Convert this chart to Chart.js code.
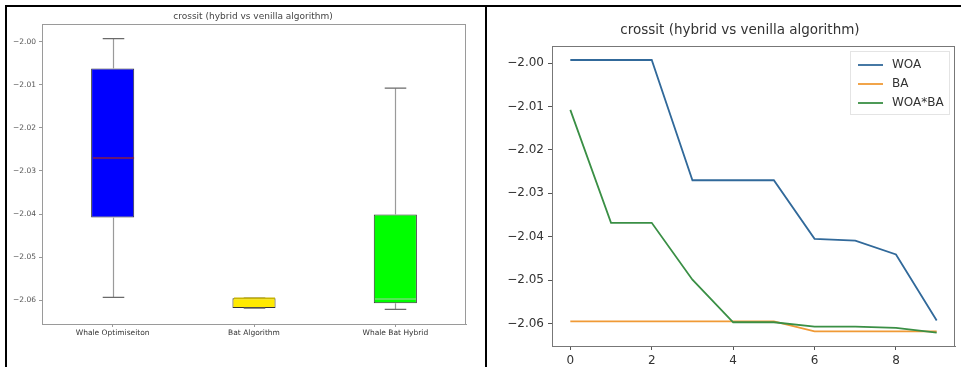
<!DOCTYPE html>
<html>
<head>
<meta charset="utf-8">
<script src="https://cdn.jsdelivr.net/npm/chart.js@4.4.0/dist/chart.umd.min.js"></script>
<style>
    html, body { margin: 0; padding: 0; background: #fff; }
    body { width: 961px; height: 367px; overflow: hidden; position: relative; }
    canvas { position: absolute; top: 0; }
    #box-chart { left: 0; }
    #line-chart { left: 488px; }
    .rule { position: absolute; background: #000; z-index: 5; }
</style>
</head>
<body>
<canvas id="box-chart" width="488" height="367"></canvas>
<canvas id="line-chart" width="473" height="367"></canvas>
<div class="rule" style="left:5px; top:5px; width:956px; height:2px;"></div>
<div class="rule" style="left:5px; top:5px; width:2px; height:362px;"></div>
<div class="rule" style="left:485px; top:5px; width:2px; height:362px;"></div>
<script>
// --- Data ---
const chartTitle = 'crossit (hybrid vs venilla algorithm)';
const iterations = [0, 1, 2, 3, 4, 5, 6, 7, 8, 9];
const woaValues = [-1.9993, -1.9993, -1.9993, -2.0270, -2.0270, -2.0270, -2.0405, -2.0409, -2.0441, -2.0593];
const baValues = [-2.0595, -2.0595, -2.0595, -2.0595, -2.0595, -2.0595, -2.0618, -2.0618, -2.0618, -2.0618];
const hybridValues = [-2.0108, -2.0368, -2.0368, -2.0499, -2.0597, -2.0597, -2.0607, -2.0607, -2.0610, -2.0621];
const seriesNames = ['WOA', 'BA', 'WOA*BA'];
const boxLabels = ['Whale Optimiseiton', 'Bat Algorithm', 'Whale Bat Hybrid'];
const yTicks = [-2.00, -2.01, -2.02, -2.03, -2.04, -2.05, -2.06];
const xTicks = [0, 2, 4, 6, 8];

const FONT = '"DejaVu Sans", sans-serif';

// --- Box statistics (like matplotlib's boxplot) ---
function quantile(arr, p) {
    const s = [...arr].sort((a, b) => a - b);
    const pos = (s.length - 1) * p;
    const lo = Math.floor(pos), hi = Math.ceil(pos);
    return s[lo] + (s[hi] - s[lo]) * (pos - lo);
}
function boxStats(arr) {
    const q1 = quantile(arr, 0.25), q3 = quantile(arr, 0.75), iqr = q3 - q1;
    const inside = arr.filter(v => v >= q1 - 1.5 * iqr && v <= q3 + 1.5 * iqr);
    return { q1, q3, med: quantile(arr, 0.5), lo: Math.min(...inside), hi: Math.max(...inside) };
}
const stats = [woaValues, baValues, hybridValues].map(boxStats);

const fmtTick = v => (v < 0 ? '\u2212' : '') + Math.abs(v).toFixed(2);

// draws a title at a fixed spot and the plot frame
const panelPlugin = {
    id: 'panel',
    afterDraw(chart, args, opts) {
        const { ctx, chartArea: a } = chart;
        ctx.save();
        ctx.strokeStyle = opts.frameColor;
        ctx.lineWidth = 1;
        ctx.strokeRect(a.left + 0.5, a.top + 0.5, a.right - a.left - 1, a.bottom - a.top);
        ctx.fillStyle = opts.titleColor;
        ctx.font = opts.titleFont;
        ctx.textAlign = 'center';
        ctx.textBaseline = 'middle';
        ctx.fillText(opts.title, opts.titleX, opts.titleY);
        ctx.restore();
    }
};

// whiskers, caps and medians on top of the floating bars
const whiskerPlugin = {
    id: 'whiskers',
    afterDatasetsDraw(chart) {
        const { ctx, scales: { y } } = chart;
        const bars = chart.getDatasetMeta(0).data;
        const medianColors = ['#8a1f45', '#c8b400', '#6fe06f'];
        ctx.save();
        stats.forEach((s, i) => {
            const bar = bars[i];
            const x = Math.round(bar.x) + 0.5;
            const half = bar.width / 2;
            const yQ1 = y.getPixelForValue(s.q1), yQ3 = y.getPixelForValue(s.q3);
            const yLo = y.getPixelForValue(s.lo), yHi = y.getPixelForValue(s.hi);
            ctx.strokeStyle = '#9a9a9a';
            ctx.lineWidth = 1.2;
            ctx.beginPath();
            ctx.moveTo(x, yQ3); ctx.lineTo(x, yHi);
            ctx.moveTo(x, yQ1); ctx.lineTo(x, yLo);
            ctx.stroke();
            ctx.strokeStyle = '#6a6a6a';
            ctx.lineWidth = 1.3;
            ctx.beginPath();
            ctx.moveTo(x - half / 2, yHi); ctx.lineTo(x + half / 2, yHi);
            ctx.moveTo(x - half / 2, yLo); ctx.lineTo(x + half / 2, yLo);
            ctx.stroke();
            const yMed = y.getPixelForValue(s.med);
            ctx.strokeStyle = medianColors[i];
            ctx.lineWidth = 1.5;
            ctx.beginPath();
            ctx.moveTo(x - half + 1, yMed); ctx.lineTo(x + half - 1, yMed);
            ctx.stroke();
        });
        ctx.restore();
    }
};

// legend drawn inside the plot, top right
const insideLegendPlugin = {
    id: 'insideLegend',
    afterDraw(chart) {
        const { ctx, chartArea: a } = chart;
        const sets = chart.data.datasets;
        ctx.save();
        ctx.strokeStyle = '#e4e4e4';
        ctx.lineWidth = 1;
        ctx.strokeRect(a.right - 104.5, a.top + 5.5, 99, 63);
        ctx.font = '12px ' + FONT;
        ctx.textBaseline = 'middle';
        sets.forEach((ds, i) => {
            const yy = a.top + 19 + i * 19;
            ctx.strokeStyle = ds.borderColor;
            ctx.lineWidth = 1.8;
            ctx.beginPath();
            ctx.moveTo(a.right - 97, yy); ctx.lineTo(a.right - 72, yy);
            ctx.stroke();
            ctx.fillStyle = '#333';
            ctx.fillText(ds.label, a.right - 63, yy);
        });
        ctx.restore();
    }
};

// --- Box plot (left) ---
new Chart(document.getElementById('box-chart'), {
    type: 'bar',
    data: {
        labels: boxLabels,
        datasets: [{
            data: stats.map(s => [s.q1, s.q3]),
            backgroundColor: ['#0000ff', '#ffea00', '#00ff00'],
            borderColor: '#333',
            borderWidth: 1,
            borderSkipped: false,
            barPercentage: 0.305,
            categoryPercentage: 1
        }]
    },
    options: {
        responsive: false,
        animation: false,
        layout: { padding: { top: 24, right: 22, left: 0, bottom: 0 } },
        plugins: {
            legend: { display: false },
            tooltip: { enabled: false },
            panel: { title: chartTitle, titleX: 253, titleY: 17, titleFont: '9px ' + FONT, titleColor: '#444', frameColor: '#9a9a9a' }
        },
        scales: {
            x: {
                grid: { offset: false, drawOnChartArea: false, drawTicks: true, tickLength: 3, color: '#999' },
                border: { color: '#9a9a9a' },
                ticks: { font: { family: FONT, size: 7.5 }, color: '#333', padding: 2, maxRotation: 0 },
                afterFit: s => { s.height = 43; }
            },
            y: {
                min: -2.0655, max: -1.9959,
                grid: { drawOnChartArea: false, drawTicks: true, tickLength: 3, color: '#999' },
                border: { color: '#9a9a9a' },
                afterBuildTicks: s => { s.ticks = yTicks.map(v => ({ value: v })); },
                ticks: { font: { family: FONT, size: 7.5 }, color: '#555', padding: 3, callback: fmtTick },
                afterFit: s => { s.width = 42; }
            }
        }
    },
    plugins: [whiskerPlugin, panelPlugin]
});

// --- Convergence lines (right) ---
const toPoints = vals => iterations.map((x, i) => ({ x, y: vals[i] }));
new Chart(document.getElementById('line-chart'), {
    type: 'line',
    data: {
        datasets: [
            { label: seriesNames[0], data: toPoints(woaValues), borderColor: '#31699a', order: 2 },
            { label: seriesNames[1], data: toPoints(baValues), borderColor: '#f09a36', order: 1 },
            { label: seriesNames[2], data: toPoints(hybridValues), borderColor: '#3a8f45', order: 0 }
        ].map(d => Object.assign(d, { borderWidth: 1.8, pointRadius: 0, fill: false, tension: 0 }))
    },
    options: {
        responsive: false,
        animation: false,
        layout: { padding: { top: 46, right: 6, left: 0, bottom: 0 } },
        plugins: {
            legend: { display: false },
            tooltip: { enabled: false },
            panel: { title: chartTitle, titleX: 252, titleY: 30, titleFont: '13.5px ' + FONT, titleColor: '#333', frameColor: '#777' }
        },
        scales: {
            x: {
                type: 'linear',
                min: -0.45, max: 9.45,
                grid: { drawOnChartArea: false, drawTicks: true, tickLength: 4, color: '#555' },
                border: { color: '#777' },
                afterBuildTicks: s => { s.ticks = xTicks.map(v => ({ value: v })); },
                ticks: { font: { family: FONT, size: 12 }, color: '#333', padding: 4, callback: v => String(v) },
                afterFit: s => { s.height = 21; }
            },
            y: {
                min: -2.06517, max: -1.99608,
                grid: { drawOnChartArea: false, drawTicks: true, tickLength: 4, color: '#555' },
                border: { color: '#777' },
                afterBuildTicks: s => { s.ticks = yTicks.map(v => ({ value: v })); },
                ticks: { font: { family: FONT, size: 12 }, color: '#333', padding: 4, callback: fmtTick },
                afterFit: s => { s.width = 64; }
            }
        }
    },
    plugins: [insideLegendPlugin, panelPlugin]
});
</script>
</body>
</html>
